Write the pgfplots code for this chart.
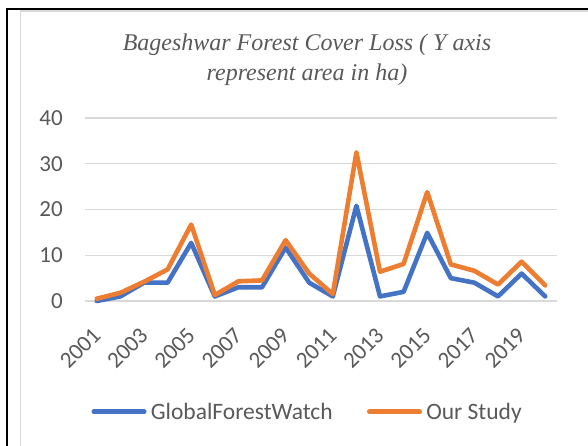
\documentclass[border=0pt]{standalone}
\usepackage{fontspec}
\setmainfont{Carlito}
\newfontfamily\titlefont{Liberation Serif}
\usepackage{pgfplots}
\pgfplotsset{compat=1.18}
\definecolor{gfw}{HTML}{4472C4}
\definecolor{ours}{HTML}{ED7D31}
\definecolor{gridc}{HTML}{D9D9D9}
\definecolor{txt}{HTML}{595959}
\begin{document}
\begin{tikzpicture}
\path[use as bounding box] (0,0) rectangle (588bp,446bp);
\draw[black, line width=2bp] (7bp,0bp) -- (7bp,437bp) -- (588bp,437bp);
\draw[gridc, line width=1.5bp] (20.5bp,0bp) -- (20.5bp,435bp) -- (588bp,435bp);
\begin{axis}[
  at={(85bp,145bp)}, anchor=south west,
  scale only axis, width=472bp, height=183bp,
  xmin=2000.5, xmax=2020.5, ymin=0, ymax=40,
  clip=false,
  axis line style={draw=none},
  tick style={draw=none},
  ymajorgrids, major grid style={gridc, line width=1.2bp},
  xtick={2001,2003,...,2019}, ytick={0,10,20,30,40},
  /pgf/number format/1000 sep={},
  /pgf/number format/assume math mode=true,
  ticklabel style={font=\fontsize{23bp}{27bp}\selectfont, text=txt, inner sep=0pt},
  yticklabel style={anchor=east, xshift=-22bp},
  xticklabel style={yshift=-30.5bp, rotate=45, anchor=east},
  title={\titlefont\itshape Bageshwar Forest Cover Loss ( Y axis\\[4bp] \titlefont\itshape represent area in ha)},
  title style={at={(axis description cs:0.4703,1.284)}, anchor=center, align=center, text=txt, font=\fontsize{24bp}{26bp}\selectfont, inner sep=0pt},
  legend columns=2,
  legend style={at={(axis description cs:0.0022,-0.605)}, anchor=west, draw=none, fill=none,
    column sep=0pt, /tikz/every even column/.append style={column sep=32bp},
    nodes={inner sep=0pt, font=\fontsize{23.5bp}{27bp}\selectfont, text=txt}},
  legend cell align=left,
  legend image code/.code={\draw[#1, line width=4.5bp, line cap=round] (2.25bp,0bp) -- (52.75bp,0bp); \path (0bp,0bp) (57bp,0bp);},
  every axis plot/.append style={line width=4.6bp, line join=round, line cap=round},
]
\addplot[gfw] coordinates {
(2001,0) (2002,1) (2003,4) (2004,4) (2005,12.7) (2006,1) (2007,3) (2008,3) (2009,11.7) (2010,4)
(2011,1) (2012,20.8) (2013,1) (2014,2) (2015,14.9) (2016,5) (2017,4) (2018,1) (2019,6) (2020,1)};
\addlegendentry{GlobalForestWatch}
\addplot[ours] coordinates {
(2001,0.5) (2002,1.8) (2003,4.2) (2004,6.9) (2005,16.7) (2006,1.3) (2007,4.3) (2008,4.5) (2009,13.3) (2010,6)
(2011,1.5) (2012,32.5) (2013,6.4) (2014,8.1) (2015,23.8) (2016,8) (2017,6.6) (2018,3.6) (2019,8.6) (2020,3.4)};
\addlegendentry{Our Study}
\end{axis}
\end{tikzpicture}
\end{document}
